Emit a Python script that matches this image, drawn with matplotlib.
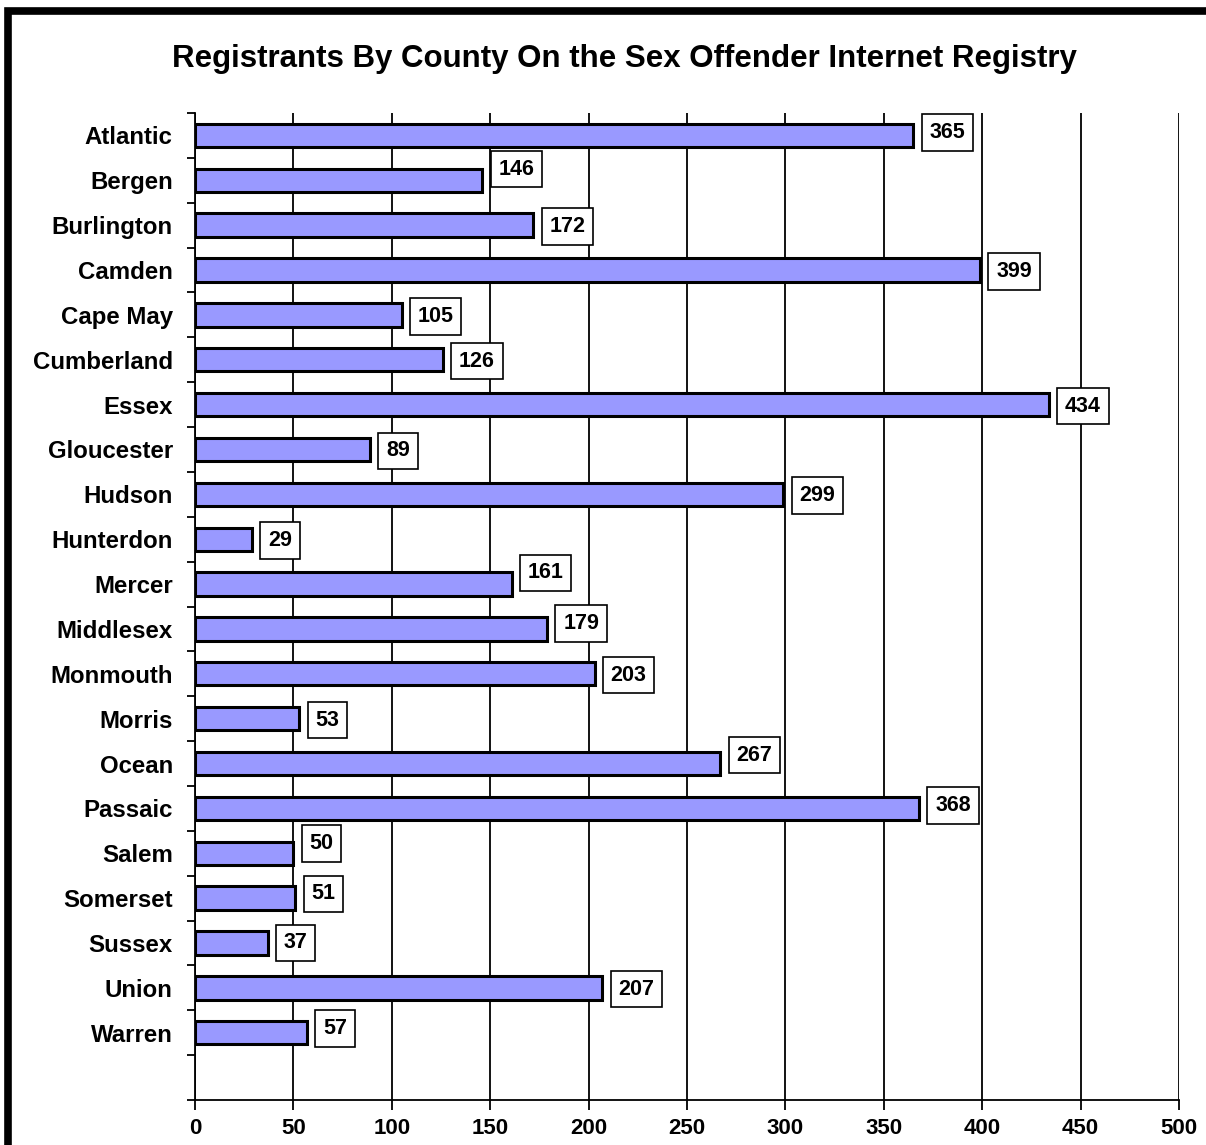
import matplotlib
matplotlib.use("Agg")
import matplotlib.pyplot as plt
from matplotlib.patches import Rectangle
import numpy as np

plt.rcParams['font.family'] = ['Liberation Sans', 'DejaVu Sans']

title = "Registrants By County On the Sex Offender Internet Registry"
counties = ["Atlantic", "Bergen", "Burlington", "Camden", "Cape May", "Cumberland",
            "Essex", "Gloucester", "Hudson", "Hunterdon", "Mercer", "Middlesex",
            "Monmouth", "Morris", "Ocean", "Passaic", "Salem", "Somerset",
            "Sussex", "Union", "Warren"]
registrants = [365, 146, 172, 399, 105, 126, 434, 89, 299, 29, 161, 179,
               203, 53, 267, 368, 50, 51, 37, 207, 57]
x_ticks = [0, 50, 100, 150, 200, 250, 300, 350, 400, 450, 500]

# vertical nudges (points) keeping neighbouring value boxes apart
label_lift = [3, 9, 0, 0, 0, 0, 0, 0, 0, 0, 9, 5, 0, 0, 7, 3, 8, 4, 1, 0, 4]

W, H = 1206, 1145
fig = plt.figure(figsize=(W / 100, H / 100), dpi=100)

# heavy frame around the chart area (runs off the right and bottom edges)
fig.patches.append(Rectangle((7.5 / W, -0.05), 1.2, 1 - 10.5 / H + 0.05,
                             transform=fig.transFigure, fill=False,
                             edgecolor='black', linewidth=5.5, zorder=0))

ax = fig.add_axes([195 / W, 1 - 1100 / H, (1179 - 195) / W, (1100 - 113) / H])

ypos = np.arange(len(counties))
ax.barh(ypos, registrants, height=0.52, color='#9999FF', edgecolor='black',
        linewidth=2.2, zorder=3)

for y, v, lift in zip(ypos, registrants, label_lift):
    ax.annotate(str(v), xy=(v, y), xytext=(11.5, lift + 0.8), textcoords='offset points',
                ha='left', va='center_baseline', fontsize=15.5, fontweight='bold',
                zorder=5,
                bbox=dict(boxstyle='square,pad=0.36', facecolor='white',
                          edgecolor='black', linewidth=1.2))

ax.set_xlim(0, 500)
ax.set_ylim(len(counties) + 0.5, -0.5)
ax.set_xticks(x_ticks)
ax.set_xticklabels([str(t) for t in x_ticks], fontsize=16, fontweight='bold')
ax.tick_params(axis='x', length=7, width=1.3, pad=6, direction='out')

ax.set_yticks(ypos)
ax.set_yticklabels(counties, fontsize=17.3, fontweight='bold')
ax.tick_params(axis='y', which='major', length=0, pad=16)
ax.set_yticks(np.arange(-0.5, len(counties) + 0.6, 1), minor=True)
ax.tick_params(axis='y', which='minor', length=6, width=1.3, direction='out')

ax.xaxis.grid(True, color='black', linewidth=1.3, zorder=1)
ax.set_axisbelow(True)
for side in ['top', 'right']:
    ax.spines[side].set_visible(False)
for side in ['left', 'bottom']:
    ax.spines[side].set_linewidth(1.3)
    ax.spines[side].set_zorder(4)

fig.text(624 / W, 1 - 59 / H, title, ha='center', va='center',
         fontsize=22.5, fontweight='bold')

fig.savefig("out.png", dpi=100)
